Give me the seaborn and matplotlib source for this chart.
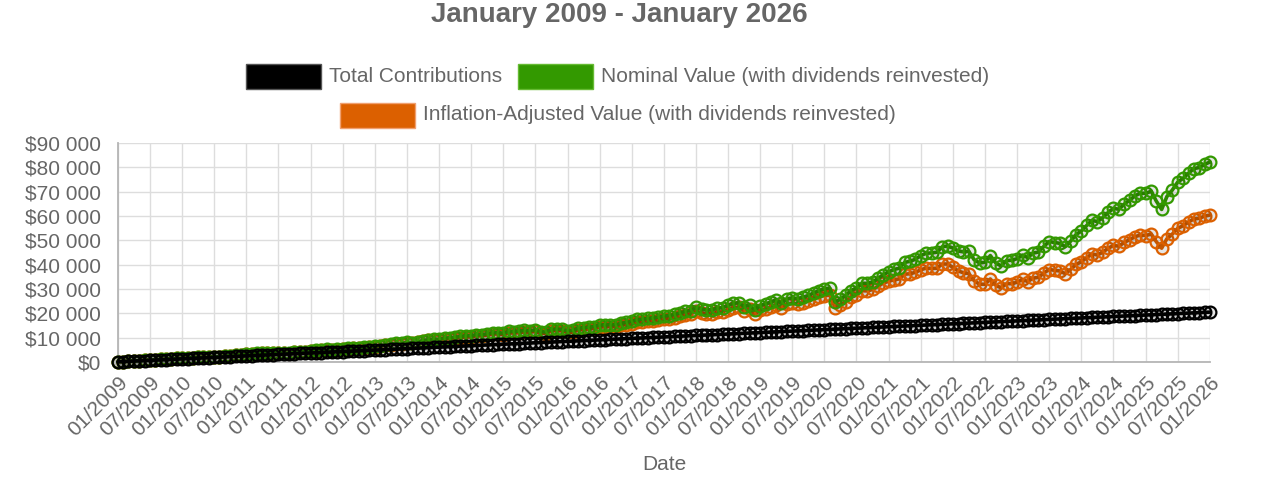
import pandas as pd
import matplotlib
matplotlib.use("Agg")
import matplotlib.pyplot as plt
import matplotlib.dates as mdates
from matplotlib.patches import Rectangle
from matplotlib.ticker import FuncFormatter, MultipleLocator
import seaborn as sns

# ---------------------------------------------------------------
# Data (monthly, 01/2009 - 01/2026)
# ---------------------------------------------------------------
months = pd.date_range("2009-01-01", "2026-01-01", freq="MS")

total_contributions = [
    100, 200, 300, 400, 500, 600, 700, 800, 900, 1000, 1100, 1200,
    1300, 1400, 1500, 1600, 1700, 1800, 1900, 2000, 2100, 2200, 2300, 2400,
    2500, 2600, 2700, 2800, 2900, 3000, 3100, 3200, 3300, 3400, 3500, 3600,
    3700, 3800, 3900, 4000, 4100, 4200, 4300, 4400, 4500, 4600, 4700, 4800,
    4900, 5000, 5100, 5200, 5300, 5400, 5500, 5600, 5700, 5800, 5900, 6000,
    6100, 6200, 6300, 6400, 6500, 6600, 6700, 6800, 6900, 7000, 7100, 7200,
    7300, 7400, 7500, 7600, 7700, 7800, 7900, 8000, 8100, 8200, 8300, 8400,
    8500, 8600, 8700, 8800, 8900, 9000, 9100, 9200, 9300, 9400, 9500, 9600,
    9700, 9800, 9900, 10000, 10100, 10200, 10300, 10400, 10500, 10600, 10700, 10800,
    10900, 11000, 11100, 11200, 11300, 11400, 11500, 11600, 11700, 11800, 11900, 12000,
    12100, 12200, 12300, 12400, 12500, 12600, 12700, 12800, 12900, 13000, 13100, 13200,
    13300, 13400, 13500, 13600, 13700, 13800, 13900, 14000, 14100, 14200, 14300, 14400,
    14500, 14600, 14700, 14800, 14900, 15000, 15100, 15200, 15300, 15400, 15500, 15600,
    15700, 15800, 15900, 16000, 16100, 16200, 16300, 16400, 16500, 16600, 16700, 16800,
    16900, 17000, 17100, 17200, 17300, 17400, 17500, 17600, 17700, 17800, 17900, 18000,
    18100, 18200, 18300, 18400, 18500, 18600, 18700, 18800, 18900, 19000, 19100, 19200,
    19300, 19400, 19500, 19600, 19700, 19800, 19900, 20000, 20100, 20200, 20300, 20400,
    20500,
]

nominal_value = [
    100, 190, 310, 430, 560, 660, 810, 940, 1070, 1150, 1320, 1450,
    1500, 1640, 1840, 1970, 1910, 1910, 2150, 2150, 2440, 2630, 2730, 3020,
    3190, 3390, 3500, 3700, 3760, 3800, 3820, 3710, 3550, 4040, 4120, 4270,
    4560, 4850, 5110, 5180, 4960, 5270, 5440, 5660, 5910, 5900, 6020, 6170,
    6600, 6780, 7140, 7380, 7640, 7640, 8130, 7990, 8340, 8830, 9190, 9510,
    9290, 9810, 9990, 10170, 10500, 10820, 10770, 11290, 11240, 11620, 12020, 12090,
    11830, 12600, 12500, 12730, 12980, 12830, 13210, 12500, 12290, 13430, 13550, 13440,
    12880, 12950, 13930, 14080, 14420, 14560, 15200, 15310, 15410, 15240, 15890, 16300,
    16720, 17470, 17590, 17880, 18210, 18430, 18910, 19060, 19550, 20120, 20820, 21160,
    22480, 21740, 21290, 21480, 22080, 22320, 23260, 24110, 24350, 22800, 23340, 21330,
    23150, 23970, 24540, 25650, 24100, 25910, 26380, 26050, 26640, 27330, 28410, 29370,
    30170, 30320, 24680, 25850, 27470, 29360, 30470, 32380, 32280, 32940, 34350, 35920,
    37040, 38080, 38510, 40940, 41370, 42230, 43650, 44720, 44810, 45130, 47400, 47650,
    46790, 45560, 45280, 45450, 42000, 40700, 40980, 43740, 40660, 39510, 41700, 41810,
    42490, 43950, 42910, 44750, 45180, 47530, 49490, 49100, 48750, 47380, 49690, 52380,
    53850, 56200, 58200, 57700, 59300, 61500, 63100, 62800, 64950, 66500, 68300, 69400,
    69300, 70200, 66200, 62700, 68000, 70700, 73900, 75500, 77600, 79500, 79900, 81200,
    82200,
]

inflation_adjusted = [
    100, 190, 310, 430, 560, 660, 805, 935, 1065, 1145, 1310, 1440,
    1485, 1625, 1820, 1950, 1890, 1890, 2130, 2130, 2415, 2600, 2700, 2990,
    3125, 3320, 3430, 3625, 3685, 3725, 3745, 3635, 3480, 3960, 4040, 4185,
    4425, 4705, 4955, 5025, 4810, 5110, 5275, 5490, 5730, 5725, 5840, 5985,
    6350, 6520, 6870, 7100, 7350, 7350, 7820, 7685, 8020, 8495, 8840, 9150,
    8880, 9370, 9540, 9710, 10030, 10330, 10290, 10780, 10730, 11100, 11480, 11550,
    11260, 12000, 11900, 12120, 12360, 12210, 12580, 11900, 11700, 12790, 12900, 12800,
    12170, 12240, 13160, 13310, 13630, 13760, 14360, 14470, 14560, 14400, 15020, 15400,
    15630, 16330, 16450, 16720, 17030, 17230, 17680, 17820, 18280, 18810, 19470, 19780,
    20790, 20110, 19690, 19870, 20420, 20650, 21520, 22300, 22520, 21090, 21590, 19730,
    21180, 21930, 22450, 23470, 22050, 23710, 24140, 23840, 24380, 25010, 26000, 26870,
    27300, 27440, 22340, 23390, 24860, 26570, 27580, 29300, 29210, 29810, 31090, 32510,
    33150, 33890, 34120, 36070, 36280, 36820, 37890, 38590, 38450, 38540, 40290, 40260,
    38840, 37360, 36680, 36360, 33390, 31950, 31960, 34120, 31510, 30500, 32190, 32190,
    32800, 33930, 33080, 34460, 34790, 36550, 38010, 37710, 37390, 36290, 38060, 40070,
    41200, 42940, 44410, 43970, 45130, 46740, 47890, 47600, 49170, 50270, 51500, 52190,
    51980, 52580, 49520, 46770, 50660, 52600, 54910, 56020, 57500, 58830, 59050, 59930,
    60420,
]

labels = [
    "Total Contributions",
    "Nominal Value (with dividends reinvested)",
    "Inflation-Adjusted Value (with dividends reinvested)",
]
colors = ["#000000", "#339900", "#dc6000"]
edge_colors = ["#555555", "#66bb33", "#f0a070"]

df = pd.DataFrame({
    "Date": months,
    "contrib": total_contributions,
    "nominal": nominal_value,
    "inflation": inflation_adjusted,
})

# ---------------------------------------------------------------
# Figure
# ---------------------------------------------------------------
W, H = 1266, 493
TEXT = "#666666"
GRID = "#dddddd"
FS = 15

sns.set_style("whitegrid")
plt.rcParams["font.family"] = ["Liberation Sans", "DejaVu Sans"]

fig = plt.figure(figsize=(W / 100, H / 100), dpi=100)
# plot area in pixels: x 118..1210, y 143..362
ax = fig.add_axes([118 / W, 1 - 362 / H, (1210 - 118) / W, (362 - 143) / H])

# draw order: orange underneath, black on top
for col, color, z in [("inflation", colors[2], 2), ("nominal", colors[1], 3), ("contrib", colors[0], 4)]:
    sns.lineplot(
        data=df, x="Date", y=col, ax=ax, color=color, lw=2.6,
        marker="o", ms=8.5, mfc=(0, 0, 0, 0.1), mec=color, mew=1.6,
        zorder=z, clip_on=False, legend=False,
    )

ax.set_xlim(months[0], months[-1])
ax.set_ylim(0, 90000)
ax.yaxis.set_major_locator(MultipleLocator(10000))
ax.yaxis.set_major_formatter(FuncFormatter(lambda v, p: "$" + f"{v:,.0f}".replace(",", " ")))
ax.xaxis.set_major_locator(mdates.MonthLocator(bymonth=[1, 7]))
ax.xaxis.set_major_formatter(mdates.DateFormatter("%m/%Y"))

ax.grid(True, color=GRID, lw=1)
ax.set_axisbelow(True)
for side in ["top", "right"]:
    ax.spines[side].set_visible(False)
for side in ["left", "bottom"]:
    ax.spines[side].set_color("#b5b5b5")
    ax.spines[side].set_linewidth(1.3)

ax.tick_params(axis="both", length=6, width=1, color=GRID, labelcolor=TEXT, labelsize=FS)
ax.tick_params(axis="y", pad=6)
ax.tick_params(axis="x", pad=2)
plt.setp(ax.get_xticklabels(), rotation=45, ha="right", rotation_mode="anchor")

ax.set_ylabel("")
ax.set_xlabel("Date", fontsize=FS, color=TEXT)
ax.xaxis.set_label_coords(0.5, -0.425)

# title
fig.text(619 / W, 1 - 15 / H, "January 2009 - January 2026", ha="center", va="center",
         fontsize=20, fontweight="bold", color=TEXT)

# legend (chart.js style boxes)
legend_items = [
    (246, 76, 0),
    (518, 76, 1),
    (340, 115, 2),
]
for x0, yc, i in legend_items:
    fig.add_artist(Rectangle(((x0) / W, 1 - (yc + 12.5) / H), 75 / W, 25 / H,
                             transform=fig.transFigure, facecolor=colors[i],
                             edgecolor=edge_colors[i], lw=1))
    fig.text((x0 + 83) / W, 1 - yc / H, labels[i], ha="left", va="center",
             fontsize=FS, color=TEXT)

fig.savefig("out.png", dpi=100)
